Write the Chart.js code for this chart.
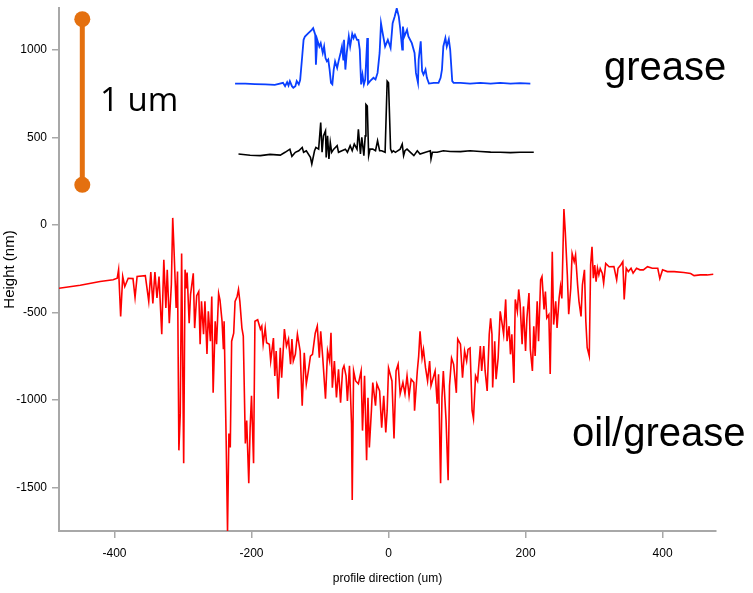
<!DOCTYPE html>
<html>
<head>
<meta charset="utf-8">
<script src="https://cdn.jsdelivr.net/npm/chart.js@4.4.1/dist/chart.umd.min.js"></script>
<style>
  html, body { margin: 0; padding: 0; background: #fff; }
  #wrap { width: 753px; height: 593px; }
</style>
</head>
<body>
<div id="wrap"><canvas id="profile-chart" width="753" height="593"></canvas></div>
<script>
// axis ranges and ticks (um on x, nm on y)
const xRange = [-481, 478];
const yRange = [-1750, 1240];
const xTicks = [-400, -200, 0, 200, 400];
const yTicks = [-1500, -1000, -500, 0, 500, 1000];

// red profile, oil/grease
const oilGrease = [
  [-481,-362],[-450,-345],[-421,-324],[-402,-314],[-396,-305],[-394,-256],[-391,-523],[-388,-295],[-385,-352],[-380,-305],
  [-373,-307],[-370,-415],[-367,-295],[-355,-290],[-350,-437],[-347,-270],[-344,-449],[-341,-270],[-338,-418],[-335,-295],
  [-331,-625],[-328,-199],[-325,-475],[-323,-256],[-320,-562],[-317,-341],[-315,40],[-313,-153],[-310,-475],[-308,-267],
  [-306,-1289],[-304,-1079],[-302,-164],[-299,-1363],[-297,-256],[-295,-363],[-294,-273],[-291,-562],[-289,-399],[-285,-277],
  [-283,-590],[-280,-405],[-277,-381],[-275,-682],[-273,-437],[-270,-625],[-268,-437],[-265,-738],[-263,-494],[-260,-665],
  [-258,-409],[-256,-960],[-253,-551],[-251,-682],[-248,-392],[-246,-430],[-243,-551],[-241,-710],[-240,-551],[-237,-1233],
  [-235,-1750],[-233,-1193],[-231,-1272],[-229,-665],[-226,-619],[-224,-437],[-221,-409],[-219,-369],[-217,-437],[-214,-590],
  [-212,-636],[-209,-1250],[-207,-1119],[-204,-1477],[-202,-1159],[-200,-977],[-197,-1363],[-195,-551],[-191,-542],[-187,-596],
  [-185,-579],[-183,-682],[-180,-590],[-178,-674],[-174,-682],[-172,-778],[-168,-647],[-166,-863],[-164,-721],[-161,-994],
  [-158,-702],[-156,-874],[-152,-596],[-149,-693],[-146,-653],[-143,-797],[-141,-653],[-139,-778],[-136,-740],[-133,-625],
  [-129,-721],[-126,-1034],[-123,-731],[-120,-909],[-117,-835],[-114,-750],[-111,-740],[-107,-619],[-104,-579],[-101,-759],
  [-99,-608],[-96,-760],[-92,-994],[-89,-721],[-86,-778],[-84,-617],[-82,-931],[-79,-778],[-76,-986],[-73,-826],
  [-70,-1017],[-67,-826],[-65,-806],[-62,-863],[-60,-1006],[-57,-806],[-54,-1136],[-53,-1573],[-51,-835],[-48,-892],
  [-44,-909],[-40,-835],[-38,-1176],[-35,-863],[-32,-1346],[-30,-988],[-28,-1272],[-25,-1062],[-23,-901],[-19,-1034],
  [-17,-909],[-13,-949],[-10,-1159],[-7,-977],[-4,-1187],[-2,-1062],[0,-818],[5,-892],[8,-1221],[11,-835],
  [14,-797],[17,-966],[21,-901],[24,-966],[27,-863],[30,-977],[33,-882],[37,-901],[38,-1062],[42,-835],
  [44,-750],[46,-608],[49,-761],[51,-712],[54,-816],[57,-892],[60,-778],[62,-920],[66,-863],[68,-835],
  [71,-1022],[73,-854],[76,-1477],[78,-986],[80,-835],[84,-1119],[87,-1460],[89,-920],[92,-761],[95,-797],
  [99,-960],[101,-653],[105,-682],[108,-874],[111,-721],[114,-778],[116,-712],[119,-704],[122,-1062],[124,-1108],
  [127,-863],[130,-892],[134,-693],[136,-835],[139,-693],[141,-835],[144,-949],[147,-625],[149,-534],[151,-625],
  [152,-930],[155,-665],[157,-882],[160,-760],[163,-494],[166,-570],[168,-625],[171,-426],[173,-665],[176,-579],
  [178,-740],[180,-625],[183,-903],[185,-426],[188,-494],[190,-369],[192,-447],[195,-682],[197,-466],[200,-721],
  [202,-534],[205,-390],[207,-712],[210,-835],[212,-579],[214,-750],[217,-437],[219,-665],[222,-314],[224,-295],
  [227,-483],[229,-381],[231,-532],[234,-513],[236,-852],[239,-153],[241,-570],[244,-437],[246,-589],[249,-418],
  [251,-352],[253,-420],[256,91],[258,-40],[261,-286],[263,-511],[266,-362],[268,-164],[271,-210],[273,-172],
  [276,-343],[278,-437],[281,-523],[283,-343],[286,-257],[288,-551],[290,-702],[293,-750],[295,-229],[297,-125],
  [299,-305],[301,-230],[303,-324],[305,-248],[307,-285],[309,-250],[312,-276],[314,-333],[317,-220],[322,-239],
  [329,-238],[333,-314],[335,-248],[339,-229],[342,-210],[344,-426],[347,-248],[350,-267],[354,-248],[357,-276],
  [362,-248],[367,-257],[372,-257],[378,-239],[385,-248],[393,-248],[396,-307],[400,-257],[407,-267],[417,-267],
  [431,-272],[441,-278],[446,-290],[455,-286],[465,-286],[474,-282]
];

// blue profile, grease (shown offset above)
const grease = [
  [-224,808],[-209,808],[-195,805],[-180,803],[-166,801],[-154,812],[-151,793],[-148,816],[-146,797],[-144,822],
  [-141,793],[-139,784],[-136,793],[-134,822],[-131,803],[-129,828],[-126,964],[-124,1058],[-122,1077],[-117,1096],
  [-112,1115],[-110,1125],[-107,1087],[-106,916],[-104,1058],[-101,1020],[-99,1039],[-96,983],[-94,1020],[-92,954],
  [-90,935],[-88,945],[-86,888],[-84,812],[-82,803],[-80,888],[-78,935],[-75,897],[-73,935],[-70,983],
  [-68,1020],[-66,945],[-65,1058],[-63,888],[-61,983],[-58,1077],[-56,1020],[-53,1092],[-51,1068],[-49,1087],
  [-46,1058],[-44,1058],[-42,1002],[-40,803],[-38,859],[-36,803],[-34,831],[-31,1068],[-30,807],[-27,822],
  [-22,841],[-19,831],[-16,869],[-13,983],[-11,1153],[-9,1106],[-5,1020],[-1,1058],[3,1011],[6,1153],
  [9,1191],[12,1238],[15,1191],[17,1125],[20,1002],[21,1134],[23,1077],[27,1115],[29,1077],[34,1039],
  [38,983],[40,869],[43,812],[44,945],[47,1049],[49,879],[51,859],[54,888],[56,841],[59,808],
  [66,812],[73,812],[76,841],[78,888],[80,1020],[83,1068],[85,1020],[88,1062],[90,1002],[93,822],
  [95,812],[105,812],[119,808],[134,812],[149,808],[163,812],[178,808],[192,810],[207,808]
];

// black profile (shown offset below the blue one)
const greaseBase = [
  [-219,405],[-202,398],[-187,396],[-173,403],[-158,399],[-151,415],[-144,433],[-141,392],[-136,415],[-131,424],
  [-126,443],[-124,415],[-120,424],[-114,386],[-112,348],[-108,424],[-106,443],[-102,433],[-99,585],[-97,415],
  [-95,509],[-92,538],[-91,386],[-89,509],[-87,377],[-85,471],[-83,415],[-80,433],[-75,453],[-73,415],
  [-68,424],[-63,433],[-60,415],[-56,453],[-53,424],[-50,462],[-46,433],[-44,547],[-41,405],[-39,500],
  [-36,396],[-34,509],[-33,689],[-31,680],[-29,396],[-27,433],[-23,433],[-19,424],[-16,481],[-13,424],
  [-10,424],[-5,415],[-2,822],[0,812],[3,433],[5,415],[7,424],[10,415],[17,433],[20,462],
  [22,396],[24,424],[27,433],[32,415],[37,396],[42,424],[46,405],[54,415],[61,424],[62,377],
  [64,415],[71,415],[80,424],[90,420],[105,419],[119,424],[134,420],[149,416],[163,415],[178,413],
  [192,415],[212,415]
];

// orange 1 um scale bar (ends in nm)
const scaleBar = [[-447, 1176], [-447, 229]];

const toPoints = arr => arr.map(([x, y]) => ({ x, y }));

const axisGrey = '#a8a8a8';
const sans = '"Liberation Sans", Arial, sans-serif';
const tickFont = { family: sans, size: 12 };

const notesPlugin = {
  id: 'notes',
  afterDatasetsDraw(chart) {
    const ctx = chart.ctx;
    ctx.save();
    ctx.fillStyle = '#000';
    ctx.textBaseline = 'alphabetic';
    ctx.textAlign = 'left';
    ctx.font = '40px ' + sans;
    ctx.fillText('grease', 604, 80);
    ctx.fillText('oil/grease', 572, 446);
    ctx.font = '33px "Open Sans", sans-serif';
    ctx.fillText('1 um', 100, 111);
    ctx.restore();
  }
};

new Chart(document.getElementById('profile-chart'), {
  type: 'scatter',
  data: {
    datasets: [
      { label: 'oil/grease', data: toPoints(oilGrease), showLine: true, borderColor: '#ff0000', borderWidth: 1.6, pointRadius: 0 },
      { label: 'grease', data: toPoints(grease), showLine: true, borderColor: '#0a3fff', borderWidth: 1.8, pointRadius: 0 },
      { label: 'grease base', data: toPoints(greaseBase), showLine: true, borderColor: '#000000', borderWidth: 1.6, pointRadius: 0 },
      { label: '1 um', data: toPoints(scaleBar), showLine: true, borderColor: '#e4700f', backgroundColor: '#e4700f',
        borderWidth: 5, pointRadius: 8, pointBorderWidth: 0 }
    ]
  },
  options: {
    responsive: false,
    animation: false,
    layout: { padding: { top: 4, right: 37, left: 0, bottom: 0 } },
    plugins: { legend: { display: false }, tooltip: { enabled: false } },
    scales: {
      x: {
        type: 'linear',
        min: xRange[0],
        max: xRange[1],
        afterBuildTicks: s => { s.ticks = xTicks.map(v => ({ value: v })); },
        afterFit: s => { s.height = 62; s.paddingLeft = 0; s.paddingRight = 0; },
        border: { display: true, color: axisGrey, width: 2 },
        grid: { drawOnChartArea: false, drawTicks: true, tickLength: 7, color: axisGrey, lineWidth: 1.5 },
        ticks: { color: '#000', font: tickFont, padding: 8, maxRotation: 0, autoSkip: false, callback: v => String(v) },
        title: { display: true, text: 'profile direction (um)', color: '#000', font: tickFont, padding: { top: 4, bottom: 7 } }
      },
      y: {
        type: 'linear',
        min: yRange[0],
        max: yRange[1],
        afterBuildTicks: s => { s.ticks = yTicks.map(v => ({ value: v })); },
        afterFit: s => { s.width = 59; s.paddingTop = 0; s.paddingBottom = 0; },
        border: { display: true, color: axisGrey, width: 2 },
        grid: { drawOnChartArea: false, drawTicks: true, tickLength: 7, color: axisGrey, lineWidth: 1.5 },
        ticks: { color: '#000', font: tickFont, padding: 5, autoSkip: false, callback: v => String(v) },
        title: { display: true, text: 'Height (nm)', color: '#000', font: { family: sans, size: 15 }, padding: { top: 1, bottom: 2 } }
      }
    }
  },
  plugins: [notesPlugin]
});
</script>
</body>
</html>
